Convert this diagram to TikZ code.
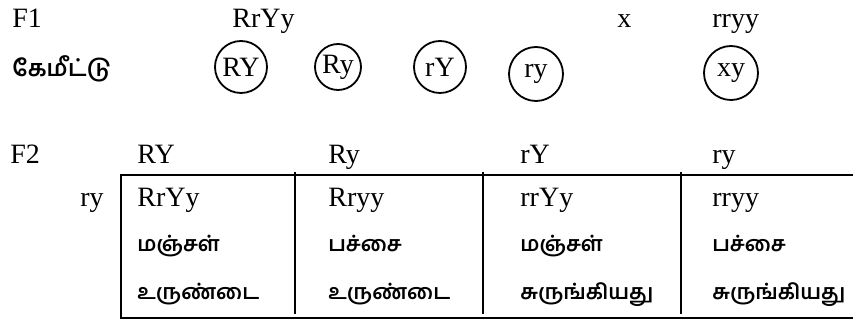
\documentclass[tikz,border=0pt]{standalone}
\usepackage{fontspec}
\setmainfont{Liberation Serif}
\newfontfamily\tamilfont[Script=Tamil]{Hind Madurai}
\usetikzlibrary{positioning}

\begin{document}
\begin{tikzpicture}[
  x=0.5pt, y=-0.5pt,
  font=\fontsize{14}{16}\selectfont,
  lbl/.style={anchor=base west, inner sep=0pt},
  tam/.style={lbl, font=\fontsize{#1}{14}\selectfont\tamilfont\bfseries},
  tam/.default=10.5,
  gamete/.style={draw, circle, line width=0.9pt, inner sep=0pt, minimum size=#1},
  grid/.style={line width=1pt}
]
\useasboundingbox (0,0) rectangle (853,320);

% F1 cross
\node[lbl] (f1) at (12,28) {F1};
\node[lbl] (parentA) at (232,28) {RrYy};
\node[lbl] (cross) at (617,28) {x};
\node[lbl] (parentB) at (712,28) {rryy};

% gametes
\node[tam=11.5] (gam) at (12,77) {கேமீட்டு};
\node[gamete=26pt] (gRY) at (241,67) {RY};
\node[gamete=23pt] (gRy) at (338,67) {Ry};
\node[gamete=26pt] (grY) at (440,67) {rY};
\node[gamete=27pt] (gry) at (536,74) {ry};
\node[gamete=27pt] (gxy) at (731,73) {xy};

% F2 header
\node[lbl] (f2) at (10,164) {F2};
\foreach \x/\g in {137/RY,328/Ry,520/rY,712/ry}
  \node[lbl] (h\g) at (\x,164) {\g};
\node[lbl] (rowry) at (80,207) {ry};

% table
\draw[grid] (853,175) -- (121,175) -- (121,318) -- (853,318);
\foreach \x in {295,483,681}
  \draw[grid] (\x,172) -- (\x,314);

\foreach \x/\geno/\colr/\form [count=\i] in {
    137/RrYy/மஞ்சள்/உருண்டை,
    328/Rryy/பச்சை/உருண்டை,
    520/rrYy/மஞ்சள்/சுருங்கியது,
    712/rryy/பச்சை/சுருங்கியது} {
  \node[lbl] (geno\i) at (\x,207) {\geno};
  \node[tam] (colr\i) at (\x,252) {\colr};
  \node[tam] (form\i) at (\x,300) {\form};
}
\end{tikzpicture}
\end{document}
